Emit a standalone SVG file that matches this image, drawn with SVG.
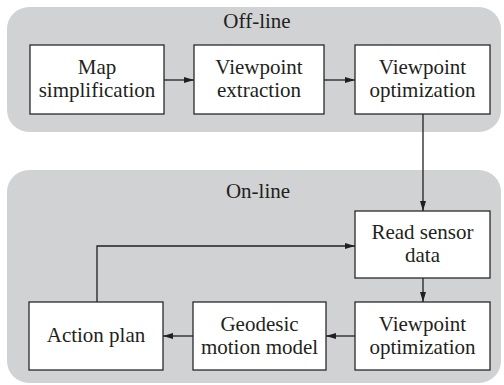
<svg xmlns="http://www.w3.org/2000/svg" width="504" height="385" viewBox="0 0 504 385">
<style>
.panel{fill:#d1d2d4;stroke:none}
.box{fill:#fff;stroke:#2a2a2a;stroke-width:1.3}
.t{font-family:'Liberation Serif','Times New Roman',serif;font-size:21px;fill:#231f20;text-anchor:middle}
.c{fill:none;stroke:#231f20;stroke-width:1.3}
</style>
<defs>
<marker id="ah" viewBox="0 0 10 6" refX="10" refY="3" markerWidth="10" markerHeight="6" markerUnits="userSpaceOnUse" orient="auto">
<path d="M0,0 L10,3 L0,6 Z" fill="#231f20"/>
</marker>
</defs>
<g id="offline">
<rect class="panel" x="7" y="7" width="494" height="125" rx="22"/>
<text class="t" x="257" y="28">Off-line</text>
</g>
<g id="online">
<rect class="panel" x="7" y="170" width="494" height="213" rx="22"/>
<text class="t" x="258" y="198">On-line</text>
</g>
<g id="map">
<rect class="box" x="30" y="45" width="134" height="69"/>
<text class="t" x="97" y="74">Map</text>
<text class="t" x="97" y="97">simplification</text>
</g>
<g id="extract">
<rect class="box" x="194" y="45" width="130" height="69"/>
<text class="t" x="259" y="74">Viewpoint</text>
<text class="t" x="259" y="97">extraction</text>
</g>
<g id="opt1">
<rect class="box" x="355" y="45" width="135" height="69"/>
<text class="t" x="422.5" y="74">Viewpoint</text>
<text class="t" x="422.5" y="97">optimization</text>
</g>
<g id="sensor">
<rect class="box" x="355" y="211" width="135" height="67"/>
<text class="t" x="422.5" y="239">Read sensor</text>
<text class="t" x="422.5" y="262">data</text>
</g>
<g id="opt2">
<rect class="box" x="355" y="302" width="135" height="68"/>
<text class="t" x="422.5" y="331">Viewpoint</text>
<text class="t" x="422.5" y="354">optimization</text>
</g>
<g id="geo">
<rect class="box" x="193" y="302" width="133" height="68"/>
<text class="t" x="259.5" y="331">Geodesic</text>
<text class="t" x="259.5" y="354">motion model</text>
</g>
<g id="action">
<rect class="box" x="29" y="302" width="134" height="68"/>
<text class="t" x="96" y="342">Action plan</text>
</g>
<g id="connectors">
<line class="c" x1="164" y1="80" x2="194" y2="80" marker-end="url(#ah)"/>
<line class="c" x1="324" y1="80" x2="355" y2="80" marker-end="url(#ah)"/>
<line class="c" x1="423" y1="114" x2="423" y2="211" marker-end="url(#ah)"/>
<line class="c" x1="423" y1="278" x2="423" y2="302" marker-end="url(#ah)"/>
<line class="c" x1="355" y1="336" x2="326" y2="336" marker-end="url(#ah)"/>
<line class="c" x1="193" y1="336" x2="163" y2="336" marker-end="url(#ah)"/>
<polyline class="c" points="97,302 97,246 355,246" marker-end="url(#ah)"/>
</g>
</svg>
